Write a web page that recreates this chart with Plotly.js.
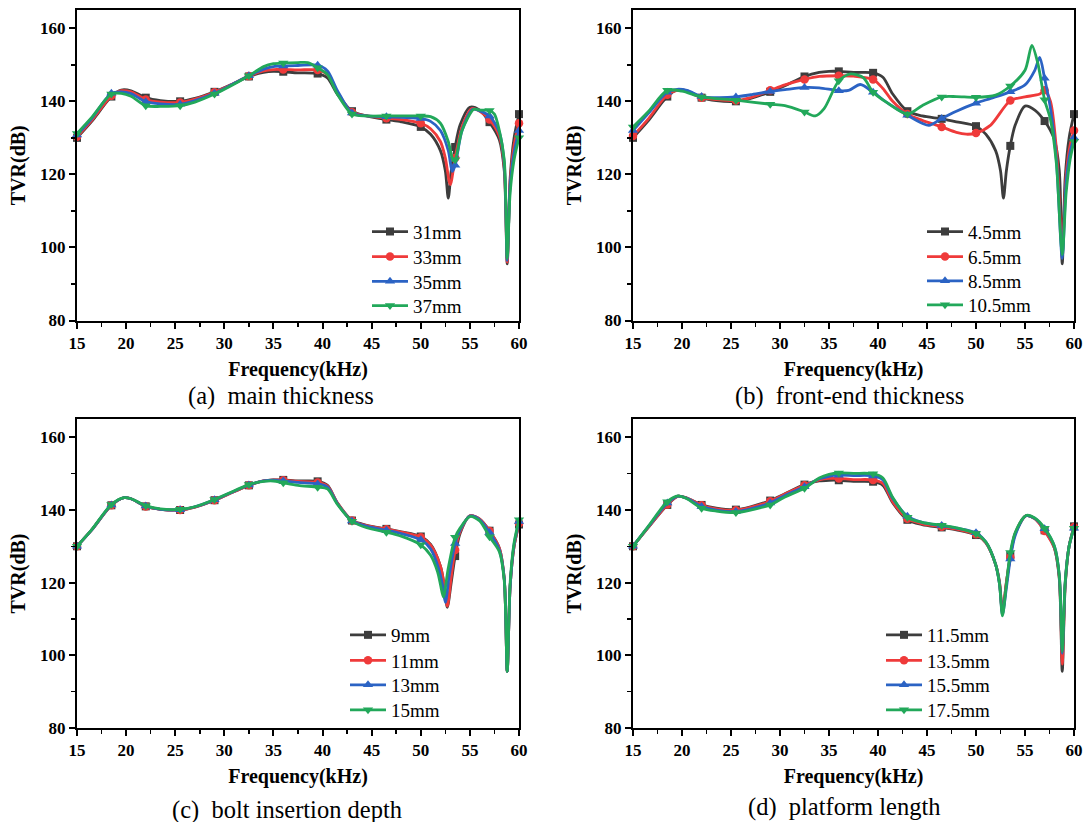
<!DOCTYPE html>
<html>
<head>
<meta charset="utf-8">
<script src="https://cdn.plot.ly/plotly-3.0.1.min.js"></script>
<style>html,body{margin:0;padding:0;background:#fff;}#chart{width:1087px;height:822px;}</style>
</head>
<body>
<div id="chart"></div>
<script>
// ---------- data (frequency in kHz, TVR in dB) ----------
const markerFreq = [15, 18.5, 22, 25.5, 29, 32.5, 36, 39.5, 43, 46.5, 50, 53.5, 57, 60];

// (a) main thickness
const a31x = [15,16.5,18.5,19.5,20.5,22,23.5,25.5,27,29,30.5,32.5,34,35,36,37.5,39.5,40.5,41.5,43,44.5,46.5,48,50,51,52,52.5,52.8,53.1,53.5,54,55,56,57,58,58.5,58.8,59.1,59.5,60];
const a31y = [130.0,134.5,141.3,143.1,142.9,141.0,140.2,140.0,140.8,142.6,144.3,146.8,147.9,148.2,148.1,147.8,147.6,146.4,142.0,137.3,136.0,135.0,134.4,133.0,131.0,126.5,121.0,113.5,121.0,127.5,133.5,138.4,137.6,134.3,129.5,121.0,95.5,119.0,130.0,136.5];
const a33x = [15,16.5,18.5,19.5,20.5,22,23.5,25.5,27,29,30.5,32.5,34,35,36,37.5,39.5,40.5,41.5,43,44.5,46.5,48,50,51,52,52.5,53.0,53.5,54.2,55.2,56,57,58,58.5,58.8,59.1,59.5,60];
const a33y = [130.3,134.8,141.5,142.9,142.6,140.5,139.8,139.7,140.6,142.5,144.3,146.9,148.3,148.7,148.7,148.6,148.6,147.3,142.5,137.0,136.0,135.4,135.0,134.0,132.5,129.0,124.5,117.2,124.5,133.0,138.0,137.3,135.0,130.5,122.0,96.0,118.0,128.0,134.0];
const a35x = [15,16.5,18.5,19.5,20.5,22,23.5,25.5,27,29,30.5,32.5,34,35,36,37.5,39.5,40.5,41.5,43,44.5,46.5,48,50,51,52,52.8,53.2,53.5,54.2,55.3,56,57,58,58.5,58.8,59.1,59.5,60];
const a35y = [130.8,135.3,142.2,142.6,142.1,139.9,139.3,139.2,140.2,142.2,144.2,147.0,148.8,149.5,149.7,149.8,149.9,148.3,143.0,136.8,136.0,135.8,135.6,135.3,134.5,132.0,126.5,120.8,122.5,132.0,137.8,137.4,136.0,131.5,123.0,96.5,117.0,126.0,132.0];
const a37x = [15,16.5,18.5,19.5,20.5,22,23.5,25.5,27,29,30.5,32.5,34,35,36,37.5,38.5,39.5,40.5,41.5,43,44.5,46.5,48,50,51,52,52.8,53.3,53.5,54.2,55.4,56,57,57.5,58,58.5,58.8,59.1,59.5,60];
const a37y = [131.2,135.6,142.0,142.2,141.4,138.8,138.6,138.8,139.8,142.0,144.0,147.0,149.5,150.3,150.5,150.6,150.6,149.2,147.3,142.0,136.5,136.0,136.0,136.0,136.0,135.8,134.0,129.0,123.8,124.0,132.0,137.8,137.6,137.5,136.5,132.0,124.0,97.0,115.0,124.0,130.0];

// (b) front-end thickness
const b45x = [15,16.5,18.5,19.5,20.5,22,23.5,25.5,27,29,30.5,32.5,34,35,36,37.5,39.5,40.5,41.5,43,44.5,46.5,48,50,51,52,52.5,52.8,53.1,53.5,54,55,56,57,58,58.5,58.8,59.1,59.5,60];
const b45y = [130.0,134.5,141.3,143.1,142.9,141.0,140.2,140.0,140.8,142.6,144.3,146.8,147.9,148.2,148.2,147.9,147.8,146.6,142.0,137.3,136.0,135.2,134.4,133.2,131.0,126.5,121.0,113.5,121.0,127.8,133.5,138.7,137.6,134.6,129.5,121.0,95.5,119.0,130.0,136.5];
const b65x = [15,16.5,18.5,19.5,20.5,22,23.5,25.5,27,29,30.5,32.5,34,36,37.5,39.5,40.5,41.5,43,44.5,46.5,48,49,50,51.5,53.5,55,56.5,57,57.6,58.2,58.8,59.2,59.6,60];
const b65y = [130.5,135.0,141.8,143.0,142.7,141.0,140.5,140.2,141.0,143.0,144.5,146.0,146.8,147.0,146.9,146.0,143.5,140.0,136.5,134.8,133.0,131.5,131.0,131.3,133.5,140.2,141.2,142.0,143.0,140.0,127.0,100.0,120.0,128.0,132.0];
const b85x = [15,16.5,18.5,19.5,20.5,22,23.5,25.5,27,29,30.5,32.5,34,36,37,38.2,39.5,41,43,44.5,45.2,46.5,48,50,51.5,53.5,55,56,56.5,57,57.6,58.2,58.8,59.2,59.6,60];
const b85y = [132.0,136.5,142.5,143.3,143.0,141.3,141.0,141.2,141.8,142.7,143.2,143.8,143.7,142.9,143.0,144.6,142.5,139.5,136.2,134.0,133.4,135.3,137.3,139.5,140.8,142.6,144.5,148.5,152.0,146.3,138.0,124.0,97.0,118.0,126.0,130.0];
const b105x = [15,16.5,18.5,20,22,25.5,29,30.5,32.5,33.6,34.5,36,37.2,38.5,39.5,41,43,44.5,46.5,48,50,52,53.5,55,55.7,56.3,57,57.6,58.2,58.8,59.2,59.6,60];
const b105y = [133.0,137.0,143.0,142.8,141.2,140.3,139.2,138.8,137.1,136.0,138.0,145.6,147.5,146.5,142.5,139.5,136.5,138.8,141.2,141.3,141.1,141.7,144.2,148.5,155.3,150.5,140.4,135.0,123.0,98.0,115.0,124.0,129.0];

// (c) bolt insertion depth
const c9x = [15,16.5,18.5,19.8,20.5,22,23.5,25.5,27,29,30.5,32.5,34,35,36,37.5,39.5,40.5,41.5,43,44.5,46.5,48,50,51,52,52.4,52.7,53.1,53.5,54,55,56,57,58,58.5,58.8,59.1,59.5,60];
const c9y = [130.0,134.5,141.3,143.4,143.1,141.0,140.2,140.0,140.8,142.7,144.5,146.8,148.0,148.3,148.3,148.0,147.9,146.8,142.0,137.1,135.8,134.8,134.0,132.7,130.5,124.5,119.0,113.2,120.0,127.3,133.5,138.4,137.5,134.3,129.5,121.0,95.5,119.0,130.0,136.0];
const c11x = [15,16.5,18.5,19.8,20.5,22,23.5,25.5,27,29,30.5,32.5,34,35,36,37.5,39.5,40.5,41.5,43,44.5,46.5,48,50,51,52,52.4,52.7,53.1,53.5,54,55,56,57,58,58.5,58.8,59.1,59.5,60];
const c11y = [130.0,134.5,141.3,143.4,143.1,141.0,140.2,140.0,140.8,142.7,144.5,146.8,148.0,148.3,148.2,147.9,147.6,146.6,142.0,137.1,135.7,134.7,133.9,132.5,130.3,124.5,119.0,113.5,121.5,129.0,134.0,138.4,137.5,134.2,129.5,121.0,95.5,119.0,130.0,136.3];
const c13x = [15,16.5,18.5,19.8,20.5,22,23.5,25.5,27,29,30.5,32.5,34,35,36,37.5,39.5,40.5,41.5,43,44.5,46.5,48,50,51,51.8,52.2,52.5,52.9,53.5,54,55,56,57,58,58.5,58.8,59.1,59.5,60];
const c13y = [130.0,134.5,141.4,143.4,143.1,141.1,140.2,140.1,140.9,142.8,144.6,146.9,148.0,148.2,148.0,147.6,147.2,146.3,141.8,137.0,135.5,134.4,133.5,131.8,129.3,124.0,119.5,114.5,122.0,130.8,134.5,138.3,137.3,133.8,129.0,121.0,95.5,119.0,130.5,136.8];
const c15x = [15,16.5,18.5,19.8,20.5,22,23.5,25.5,27,29,30.5,32.5,34,35,36,37.5,39.5,40.5,41.5,43,44.5,46.5,48,50,51,51.7,52.0,52.3,52.8,53.5,54,55,56,57,58,58.5,58.8,59.1,59.5,60];
const c15y = [130.0,134.6,141.5,143.4,143.1,141.2,140.3,140.2,140.9,142.9,144.7,147.0,147.9,148.0,147.5,146.8,146.3,145.8,141.6,136.9,135.1,133.9,132.8,130.4,127.5,123.0,119.5,116.0,124.0,132.5,135.0,138.2,137.0,132.6,128.5,120.5,95.5,120.0,131.0,137.3];

// (d) platform length
const d115x = [15,16.5,18.5,19.6,20.5,22,23.5,25.5,27,29,30.5,32.5,34,35,36,37.5,39.5,40.5,41.5,43,44.5,46.5,48,50,51,52,52.4,52.7,53.1,53.5,54,55.1,56,57,58,58.5,58.8,59.1,59.5,60];
const d115y = [130.0,135.0,141.4,143.8,143.3,141.4,140.5,140.1,140.9,142.6,144.5,147.0,148.0,148.2,148.2,147.9,147.8,146.8,142.0,137.3,136.0,135.2,134.5,133.1,131.0,125.0,120.0,112.0,120.0,127.4,133.5,138.4,137.6,134.4,129.5,121.0,95.5,119.0,130.0,135.5];
const d135x = [15,16.5,18.5,19.6,20.5,22,23.5,25.5,27,29,30.5,32.5,34,35,36,37.5,39.5,40.5,41.5,43,44.5,46.5,48,50,51,52,52.4,52.7,53.1,53.5,54,55.1,56,57,58,58.5,58.8,59.1,59.5,60];
const d135y = [130.0,135.0,141.5,143.8,143.3,141.3,140.3,139.9,140.7,142.4,144.4,146.8,148.3,148.7,148.7,148.4,148.3,147.3,142.3,137.6,136.2,135.4,134.7,133.3,131.0,125.0,120.0,111.7,120.0,127.0,133.5,138.4,137.6,134.2,129.5,121.5,97.5,119.5,130.0,135.3];
const d155x = [15,16.5,18.5,19.6,20.5,22,23.5,25.5,27,29,30.5,32.5,34,35,36,37.5,39.5,40.5,41.5,43,44.5,46.5,48,50,51,52,52.4,52.7,53.1,53.5,54,55.1,56,57,58,58.5,58.8,59.1,59.5,60];
const d155y = [130.0,135.2,141.9,143.8,143.2,141.0,140.0,139.6,140.3,141.9,144.0,146.4,148.6,149.3,149.6,149.5,149.4,148.3,143.2,138.3,136.6,135.7,135.0,133.7,131.2,125.0,119.5,111.2,118.5,126.5,133.0,138.4,137.7,134.8,130.0,122.0,100.5,120.0,130.0,135.0];
const d175x = [15,16.5,18.5,19.6,20.5,22,23.5,25.5,27,29,30.5,32.5,34,35,36,37.5,39.5,40.5,41.5,43,44.5,46.5,48,50,51,52,52.4,52.7,53.1,53.5,54,55.1,56,57,58,58.5,58.8,59.1,59.5,60];
const d175y = [130.0,135.3,142.3,143.9,143.1,140.5,139.7,139.3,140.0,141.4,143.6,146.0,148.8,149.8,150.2,150.1,150.0,148.8,143.5,138.0,136.6,135.8,135.1,133.5,131.2,125.0,119.5,110.8,119.5,128.3,133.8,138.5,137.8,135.0,130.0,122.0,101.0,120.0,130.0,135.0];

// series names
const namesA = ['31mm', '33mm', '35mm', '37mm'];
const namesB = ['4.5mm', '6.5mm', '8.5mm', '10.5mm'];
const namesC = ['9mm', '11mm', '13mm', '15mm'];
const namesD = ['11.5mm', '13.5mm', '15.5mm', '17.5mm'];
const captions = ['(a)  main thickness', '(b)  front-end thickness', '(c)  bolt insertion depth', '(d)  platform length'];

// ---------- styling ----------
const colors = ['#3d3d3d', '#ef3a3a', '#2b63c4', '#22a85a'];
const symbols = ['square', 'circle', 'triangle-up', 'triangle-down'];
const msizes = [8, 8.5, 9, 9];
const SERIF = 'Liberation Serif, Times New Roman, serif';

const panels = [
  {xs: [a31x, a33x, a35x, a37x], ys: [a31y, a33y, a35y, a37y], names: namesA, xa: 'x', ya: 'y', lx: 367, rows: [231.7, 256.7, 281.5, 305.7]},
  {xs: [b45x, b65x, b85x, b105x], ys: [b45y, b65y, b85y, b105y], names: namesB, xa: 'x2', ya: 'y2', lx: 922, rows: [231.7, 256.7, 281.0, 305.0]},
  {xs: [c9x, c11x, c13x, c15x], ys: [c9y, c11y, c13y, c15y], names: namesC, xa: 'x3', ya: 'y3', lx: 345, rows: [635, 660.5, 685, 710]},
  {xs: [d115x, d135x, d155x, d175x], ys: [d115y, d135y, d155y, d175y], names: namesD, xa: 'x4', ya: 'y4', lx: 881, rows: [635, 660.5, 685, 710]}
];

const traces = [];
const legends = {};
let lgIndex = 0;
panels.forEach(p => {
  for (let i = 0; i < 4; i++) {
    const xs = p.xs[i], ys = p.ys[i];
    traces.push({
      type: 'scatter', mode: 'lines', x: xs, y: ys, xaxis: p.xa, yaxis: p.ya,
      line: {color: colors[i], width: 2.8, shape: 'spline', smoothing: 0.8},
      showlegend: false, hoverinfo: 'skip'
    });
    const mx = [], my = [];
    xs.forEach((v, k) => { if (markerFreq.includes(v)) { mx.push(v); my.push(ys[k]); } });
    traces.push({
      type: 'scatter', mode: 'markers', x: mx, y: my, xaxis: p.xa, yaxis: p.ya,
      marker: {color: colors[i], symbol: symbols[i], size: msizes[i]},
      cliponaxis: false, showlegend: false
    });
    lgIndex++;
    const lgId = lgIndex === 1 ? 'legend' : 'legend' + lgIndex;
    legends[lgId] = {
      x: p.lx / 1087, y: 1 - p.rows[i] / 822, xanchor: 'left', yanchor: 'middle',
      bgcolor: 'rgba(0,0,0,0)', borderwidth: 0, itemwidth: 36,
      font: {family: SERIF, size: 19, color: '#000'}
    };
    traces.push({
      type: 'scatter', mode: 'lines+markers', x: [null], y: [null], xaxis: p.xa, yaxis: p.ya,
      name: p.names[i], legend: lgId,
      line: {color: colors[i], width: 2.8},
      marker: {color: colors[i], symbol: symbols[i], size: msizes[i]}
    });
  }
});

function xAxis(domain, anchor) {
  return {
    domain: domain, anchor: anchor, range: [15, 60], tick0: 0, dtick: 5,
    ticks: 'outside', ticklen: 6, tickwidth: 2, tickcolor: '#000',
    minor: {dtick: 2.5, ticks: 'outside', ticklen: 4, tickwidth: 1.5, tickcolor: '#000'},
    showline: true, linewidth: 2, linecolor: '#000', mirror: true,
    showgrid: false, zeroline: false,
    tickfont: {family: SERIF, size: 17, color: '#000', weight: 'bold'},
    title: {text: 'Frequency(kHz)', font: {family: SERIF, size: 20, color: '#000', weight: 'bold'}, standoff: 10}
  };
}
function yAxis(domain, anchor) {
  return {
    domain: domain, anchor: anchor, range: [80, 165], tick0: 0, dtick: 20,
    ticks: 'outside', ticklen: 6, tickwidth: 2, tickcolor: '#000',
    minor: {dtick: 10, ticks: 'outside', ticklen: 4, tickwidth: 1.5, tickcolor: '#000'},
    showline: true, linewidth: 2, linecolor: '#000', mirror: true,
    showgrid: false, zeroline: false,
    tickfont: {family: SERIF, size: 17, color: '#000', weight: 'bold'},
    title: {text: 'TVR(dB)', font: {family: SERIF, size: 20, color: '#000', weight: 'bold'}, standoff: 9}
  };
}

const xL = [77/1087, 519/1087], xR = [633/1087, 1074/1087];
const yT = [1 - 320.5/822, 1 - 10/822], yB = [1 - 727.7/822, 1 - 419.3/822];

const layout = Object.assign({
  width: 1087, height: 822,
  margin: {l: 0, r: 0, t: 0, b: 0},
  paper_bgcolor: '#fff', plot_bgcolor: '#fff',
  xaxis: xAxis(xL, 'y'), yaxis: yAxis(yT, 'x'),
  xaxis2: xAxis(xR, 'y2'), yaxis2: yAxis(yT, 'x2'),
  xaxis3: xAxis(xL, 'y3'), yaxis3: yAxis(yB, 'x3'),
  xaxis4: xAxis(xR, 'y4'), yaxis4: yAxis(yB, 'x4'),
  annotations: [
    {text: captions[0], x: 281/1087, y: 1 - 396/822},
    {text: captions[1], x: 849/1087, y: 1 - 396/822},
    {text: captions[2], x: 287/1087, y: 1 - 810/822},
    {text: captions[3], x: 844/1087, y: 1 - 807/822}
  ].map(a => Object.assign(a, {xref: 'paper', yref: 'paper', xanchor: 'center', yanchor: 'middle',
    showarrow: false, font: {family: SERIF, size: 24.5, color: '#000'}})),
  showlegend: true
}, legends);

Plotly.newPlot('chart', traces, layout, {displayModeBar: false, staticPlot: true});
</script>
</body>
</html>
